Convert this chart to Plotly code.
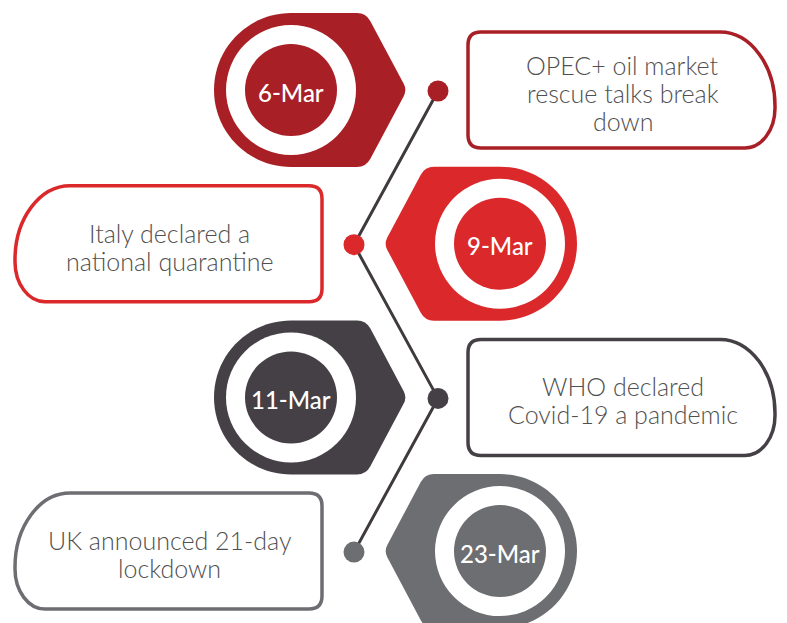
import math
import plotly.graph_objects as go

# ---- data ----
dates = ["6-Mar", "9-Mar", "11-Mar", "23-Mar"]
events = [
    "OPEC+ oil market<br>rescue talks break<br>down",
    "Italy declared a<br>national quarantine",
    "WHO declared<br>Covid-19 a pandemic",
    "UK announced 21-day<br>lockdown",
]
steps = [0, 1, 2, 3]

# ---- style / layout ----
colors = ["#A91F26", "#DA282B", "#454045", "#6D6E71"]
line_color = "#3E3A3D"
text_color = "#505050"
W, H = 787, 623
row_y0, row_dy = 90, 153.7
cx_left, cx_right = 291, 500
R_out, R_ring, R_in = 77, 65, 46
flat, tip = 75, 116
dot_x_left, dot_x_right = 438, 354
line_gap = 28


def rnd(p_prev, corner, p_next, d):
    def toward(a, b, dist):
        dx, dy = b[0] - a[0], b[1] - a[1]
        L = math.hypot(dx, dy)
        return (a[0] + dx / L * dist, a[1] + dy / L * dist)
    return toward(corner, p_prev, d), toward(corner, p_next, d)


def badge_path(cx, cy, s):
    k = 0.5523 * R_out
    A = (cx + s * flat, cy - R_out)
    T = (cx + s * tip, cy)
    B = (cx + s * flat, cy + R_out)
    top0 = (cx, cy - R_out)
    bot0 = (cx, cy + R_out)
    a1, a2 = rnd(top0, A, T, 9)
    t1, t2 = rnd(A, T, B, 7)
    b1, b2 = rnd(T, B, bot0, 9)
    p = f"M {top0[0]},{top0[1]} L {a1[0]},{a1[1]} Q {A[0]},{A[1]} {a2[0]},{a2[1]} "
    p += f"L {t1[0]},{t1[1]} Q {T[0]},{T[1]} {t2[0]},{t2[1]} "
    p += f"L {b1[0]},{b1[1]} Q {B[0]},{B[1]} {b2[0]},{b2[1]} L {bot0[0]},{bot0[1]} "
    p += (f"C {cx - s * k},{cy + R_out} {cx - s * R_out},{cy + k} {cx - s * R_out},{cy} "
          f"C {cx - s * R_out},{cy - k} {cx - s * k},{cy - R_out} {cx},{cy - R_out} Z")
    return p


def box_path(x0, x1, y0, y1, round_right):
    kk = 0.5523
    r = 13
    rx1, ry1 = 55, 74
    rx2, ry2 = 30, 40
    if round_right:
        p = f"M {x0 + r},{y0} L {x1 - rx1},{y0} "
        p += f"C {x1 - rx1 + kk * rx1},{y0} {x1},{y0 + ry1 - kk * ry1} {x1},{y0 + ry1} "
        p += f"L {x1},{y1 - ry2} "
        p += f"C {x1},{y1 - ry2 + kk * ry2} {x1 - rx2 + kk * rx2},{y1} {x1 - rx2},{y1} "
        p += f"L {x0 + r},{y1} Q {x0},{y1} {x0},{y1 - r} L {x0},{y0 + r} Q {x0},{y0} {x0 + r},{y0} Z"
    else:
        p = f"M {x1 - r},{y0} L {x0 + rx1},{y0} "
        p += f"C {x0 + rx1 - kk * rx1},{y0} {x0},{y0 + ry1 - kk * ry1} {x0},{y0 + ry1} "
        p += f"L {x0},{y1 - ry2} "
        p += f"C {x0},{y1 - ry2 + kk * ry2} {x0 + rx2 - kk * rx2},{y1} {x0 + rx2},{y1} "
        p += f"L {x1 - r},{y1} Q {x1},{y1} {x1},{y1 - r} L {x1},{y0 + r} Q {x1},{y0} {x1 - r},{y0} Z"
    return p


shapes = []
annotations = []
dot_x, dot_y = [], []
for i, (d, ev, col) in enumerate(zip(dates, events, colors)):
    cy = row_y0 + steps[i] * row_dy
    left = (steps[i] % 2 == 0)
    cx = cx_left if left else cx_right
    s = 1 if left else -1
    shapes.append(dict(type="path", path=badge_path(cx, cy, s), fillcolor=col,
                       line=dict(width=0), layer="below"))
    shapes.append(dict(type="circle", x0=cx - R_ring, x1=cx + R_ring, y0=cy - R_ring, y1=cy + R_ring,
                       fillcolor="white", line=dict(width=0), layer="below"))
    shapes.append(dict(type="circle", x0=cx - R_in, x1=cx + R_in, y0=cy - R_in, y1=cy + R_in,
                       fillcolor=col, line=dict(width=0), layer="below"))
    annotations.append(dict(x=cx, y=cy + 2, text=d, showarrow=False, xref="x", yref="y",
                            font=dict(family="Lato", size=24, color="white", weight=500)))
    if left:
        bx0, bx1 = 468, 775
    else:
        bx0, bx1 = 15, 322
    shapes.append(dict(type="path", path=box_path(bx0, bx1, cy - 58, cy + 58, left),
                       fillcolor="white", line=dict(width=3.5, color=col), layer="below"))
    lines = ev.split("<br>")
    n = len(lines)
    for j, ln in enumerate(lines):
        annotations.append(dict(x=(bx0 + bx1) / 2 + 1, y=cy + 3 + (j - (n - 1) / 2) * line_gap,
                                text=ln, showarrow=False, xref="x", yref="y",
                                font=dict(family="Lato", size=25, color=text_color, weight=300)))
    dot_x.append(dot_x_left if left else dot_x_right)
    dot_y.append(cy + 1)

fig = go.Figure()
fig.add_trace(go.Scatter(x=dot_x, y=dot_y, mode="lines", line=dict(color=line_color, width=3),
                         hoverinfo="skip", showlegend=False))
fig.add_trace(go.Scatter(x=dot_x, y=dot_y, mode="markers",
                         marker=dict(size=21, color=colors, line=dict(width=0)),
                         hoverinfo="skip", showlegend=False))

fig.update_layout(
    width=W, height=H, margin=dict(l=0, r=0, t=0, b=0),
    paper_bgcolor="white", plot_bgcolor="white",
    xaxis=dict(range=[0, W], visible=False, fixedrange=True),
    yaxis=dict(range=[H, 0], visible=False, fixedrange=True),
    shapes=shapes, annotations=annotations, showlegend=False,
)

fig.write_html("out.html", config={"displayModeBar": False},
               post_script="document.body.style.margin='0';")
